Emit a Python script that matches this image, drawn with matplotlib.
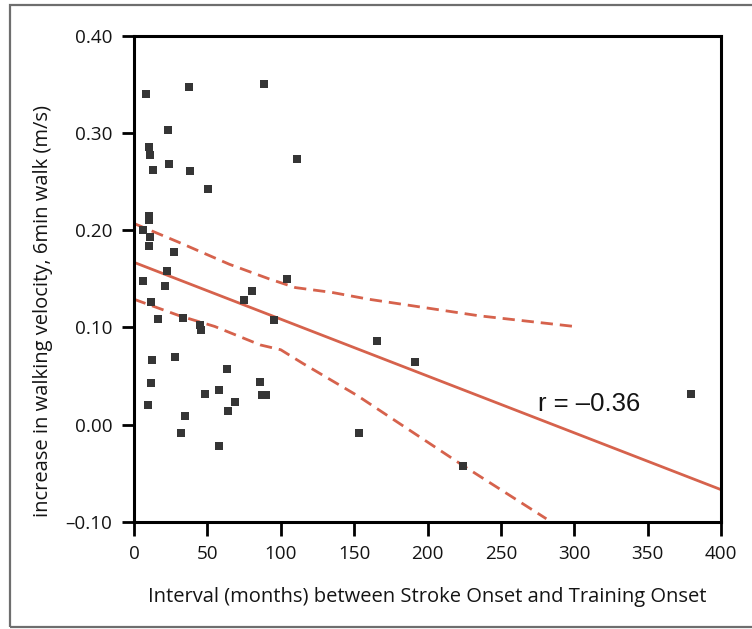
import matplotlib
matplotlib.use("Agg")
import matplotlib.pyplot as plt
from matplotlib.patches import Rectangle

# ---------------- data ----------------
interval_months = [8.2, 37.6, 88.6, 23.4, 10.4, 10.9, 110.9, 23.8, 13.2, 37.9,
                   50.2, 10.2, 10.2, 6.3, 10.9, 10.4, 27.5, 22.3, 5.9, 21.3,
                   11.4, 104.0, 80.4, 75.2, 16.1, 33.6, 45.0, 45.7, 95.4, 12.3,
                   27.9, 11.6, 9.3, 63.6, 58.1, 48.1, 69.1, 63.8, 86.2, 87.5,
                   90.2, 35.0, 32.1, 57.7, 165.4, 191.7, 153.3, 224.4, 379.5]
velocity_gain = [0.340, 0.348, 0.351, 0.303, 0.286, 0.278, 0.273, 0.268, 0.262, 0.261,
                 0.242, 0.215, 0.211, 0.200, 0.193, 0.184, 0.178, 0.158, 0.148, 0.143,
                 0.126, 0.150, 0.137, 0.128, 0.109, 0.110, 0.103, 0.097, 0.108, 0.066,
                 0.070, 0.043, 0.020, 0.057, 0.036, 0.031, 0.023, 0.014, 0.044, 0.030,
                 0.030, 0.009, -0.009, -0.022, 0.086, 0.064, -0.009, -0.043, 0.031]

fit_x = [0, 400]
fit_y = [0.167, -0.067]

upper_ci_x = [0, 30, 65, 92, 110, 135, 160, 235, 300]
upper_ci_y = [0.207, 0.188, 0.165, 0.150, 0.141, 0.136, 0.129, 0.112, 0.101]

lower_ci_x = [0, 31, 55, 86, 100, 115, 152, 224, 281]
lower_ci_y = [0.129, 0.112, 0.101, 0.082, 0.077, 0.063, 0.030, -0.042, -0.097]

x_ticks = [0, 50, 100, 150, 200, 250, 300, 350, 400]
x_tick_labels = ["0", "50", "100", "150", "200", "250", "300", "350", "400"]
y_ticks = [-0.10, 0.00, 0.10, 0.20, 0.30, 0.40]
y_tick_labels = ["\u20130.10", "0.00", "0.10", "0.20", "0.30", "0.40"]

r_label = "r = \u20130.36"
x_label = "Interval (months) between Stroke Onset and Training Onset"
y_label = "increase in walking velocity, 6min walk (m/s)"

# ---------------- style ----------------
plt.rcParams['font.family'] = ['Open Sans', 'DejaVu Sans']
line_color = "#d6624c"
point_color = "#353535"
text_color = "#141414"

fig = plt.figure(figsize=(7.52, 6.29), dpi=100)
fig.patch.set_facecolor("white")
ax = fig.add_axes([134/752, (629-521.7)/629, 587/752, 485.7/629])

ax.plot(fit_x, fit_y, color=line_color, lw=2.0, solid_capstyle='butt', zorder=2)
ax.plot(upper_ci_x, upper_ci_y, color=line_color, lw=2.0, dashes=(4.4, 2.5), zorder=2)
ax.plot(lower_ci_x, lower_ci_y, color=line_color, lw=2.0, dashes=(4.4, 2.5), zorder=2)
ax.scatter(interval_months, velocity_gain, marker='s', s=30, color=point_color,
           linewidths=0, zorder=3)

ax.text(275.3, 0.0141, r_label, family=['Liberation Sans', 'DejaVu Sans'],
        fontsize=18.5, color=text_color, ha='left', va='baseline')

ax.set_xlim(0, 400)
ax.set_ylim(-0.10, 0.40)
ax.set_xticks(x_ticks)
ax.set_xticklabels(x_tick_labels)
ax.set_yticks(y_ticks)
ax.set_yticklabels(y_tick_labels)

for s in ax.spines.values():
    s.set_linewidth(2.2)
    s.set_color("black")

ax.tick_params(axis='x', direction='out', length=10, width=2.0, pad=7,
               labelsize=13.6, labelcolor=text_color)
ax.tick_params(axis='y', direction='out', length=8.6, width=2.0, pad=7,
               labelsize=13.6, labelcolor=text_color)
for lab in ax.get_xticklabels() + ax.get_yticklabels():
    lab.set_fontweight('medium')

ax.set_xlabel(x_label, fontsize=14.5, color=text_color, fontweight='medium')
ax.xaxis.set_label_coords(0.499, -0.155)
ax.xaxis.label.set_va('center')
ax.set_ylabel(y_label, fontsize=14.5, color=text_color, fontweight='medium')
ax.yaxis.set_label_coords(-0.155, 0.434)
ax.yaxis.label.set_va('center')

frame = Rectangle((10/752, 2/629), 1.0, 622/629, transform=fig.transFigure,
                  fill=False, edgecolor="#6e6e6e", lw=1.6, clip_on=False)
fig.add_artist(frame)

fig.savefig("out.png", dpi=100, facecolor="white")
